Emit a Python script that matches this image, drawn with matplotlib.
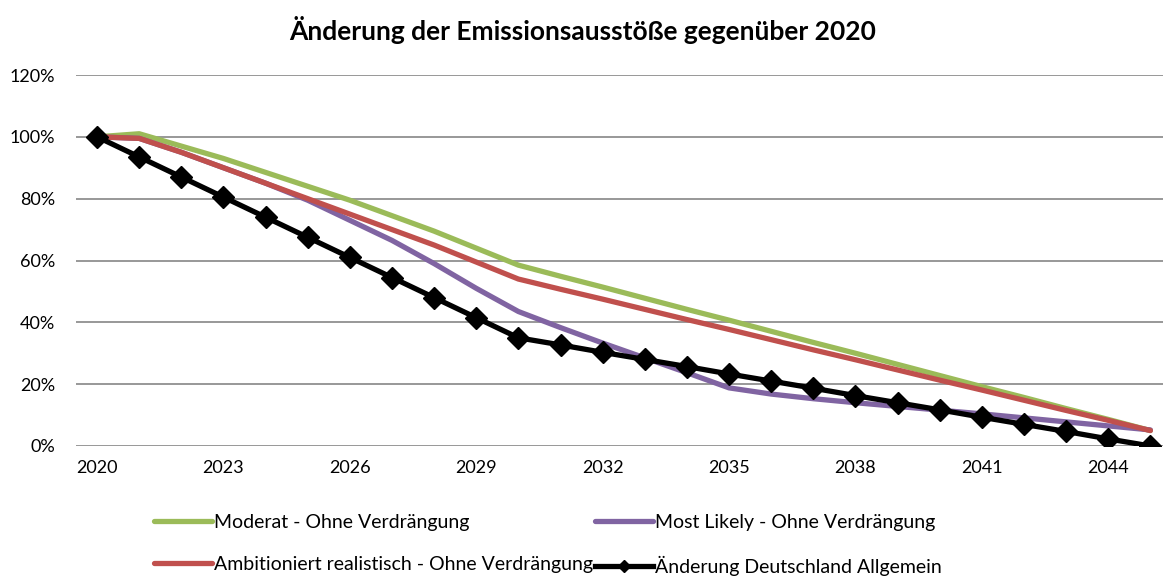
import matplotlib.pyplot as plt
from matplotlib.ticker import PercentFormatter

plt.rcParams['font.family'] = ['Lato', 'DejaVu Sans']

years = list(range(2020, 2046))

moderat = [1.00, 1.01, 0.97, 0.93, 0.885, 0.84, 0.795, 0.745, 0.695, 0.64, 0.585,
           0.549, 0.514, 0.478, 0.442, 0.407, 0.371, 0.335, 0.300, 0.264, 0.228,
           0.192, 0.157, 0.121, 0.086, 0.05]
most_likely = [1.00, 0.995, 0.95, 0.90, 0.85, 0.795, 0.73, 0.665, 0.59, 0.51, 0.435,
               0.383, 0.333, 0.285, 0.237, 0.188, 0.168, 0.153, 0.140, 0.128, 0.116,
               0.104, 0.091, 0.078, 0.065, 0.052]
ambitioniert = [1.00, 0.995, 0.95, 0.90, 0.85, 0.80, 0.75, 0.70, 0.65, 0.595, 0.54,
                0.507, 0.475, 0.442, 0.409, 0.377, 0.344, 0.311, 0.279, 0.246, 0.213,
                0.181, 0.148, 0.115, 0.083, 0.05]
deutschland = [1.00, 0.935, 0.87, 0.805, 0.74, 0.675, 0.61, 0.545, 0.48, 0.415, 0.35,
               0.327, 0.303, 0.28, 0.257, 0.233, 0.21, 0.187, 0.163, 0.14, 0.117,
               0.093, 0.07, 0.047, 0.023, 0.0]

labels = ['Moderat - Ohne Verdrängung', 'Most Likely - Ohne Verdrängung',
          'Ambitioniert realistisch - Ohne Verdrängung', 'Änderung Deutschland Allgemein']

fig = plt.figure(figsize=(11.66, 5.79), dpi=100)
ax = fig.add_axes([76 / 1166, 133 / 579, 1087 / 1166, 371 / 579])

l_mod, = ax.plot(years, moderat, color='#9BBB59', lw=3.8, solid_capstyle='round', zorder=3)
l_ml, = ax.plot(years, most_likely, color='#8064A2', lw=3.8, solid_capstyle='round', zorder=4)
l_amb, = ax.plot(years, ambitioniert, color='#C0504D', lw=3.8, solid_capstyle='round', zorder=5)
l_de, = ax.plot(years, deutschland, color='black', lw=3.8, marker='D', markersize=11, zorder=6)

ax.set_xlim(2019.5, 2045.3)
ax.set_ylim(0, 1.2)
ax.set_xticks(years[::3])
ax.set_yticks([0, 0.2, 0.4, 0.6, 0.8, 1.0, 1.2])
ax.yaxis.set_major_formatter(PercentFormatter(1.0, decimals=0))
ax.grid(axis='y', color='#868686', lw=1.2, zorder=0)
ax.tick_params(length=0, labelsize=13, colors='black')
ax.tick_params(axis='y', pad=15)
ax.tick_params(axis='x', pad=10)
for s in ax.spines.values():
    s.set_visible(False)

fig.text(0.5, 1 - 30 / 579, 'Änderung der Emissionsausstöße gegenüber 2020',
         ha='center', va='center', fontsize=19, fontweight='bold')

fig.legend([l_mod, l_amb, l_ml, l_de], [labels[0], labels[2], labels[1], labels[3]],
           ncol=2, loc='center', bbox_to_anchor=(0.47, 1 - 545 / 579), frameon=False,
           fontsize=14, handlelength=3.0, handletextpad=0.1, columnspacing=0.1,
           labelspacing=1.3, markerscale=0.55)

fig.savefig('out.png', dpi=100)
